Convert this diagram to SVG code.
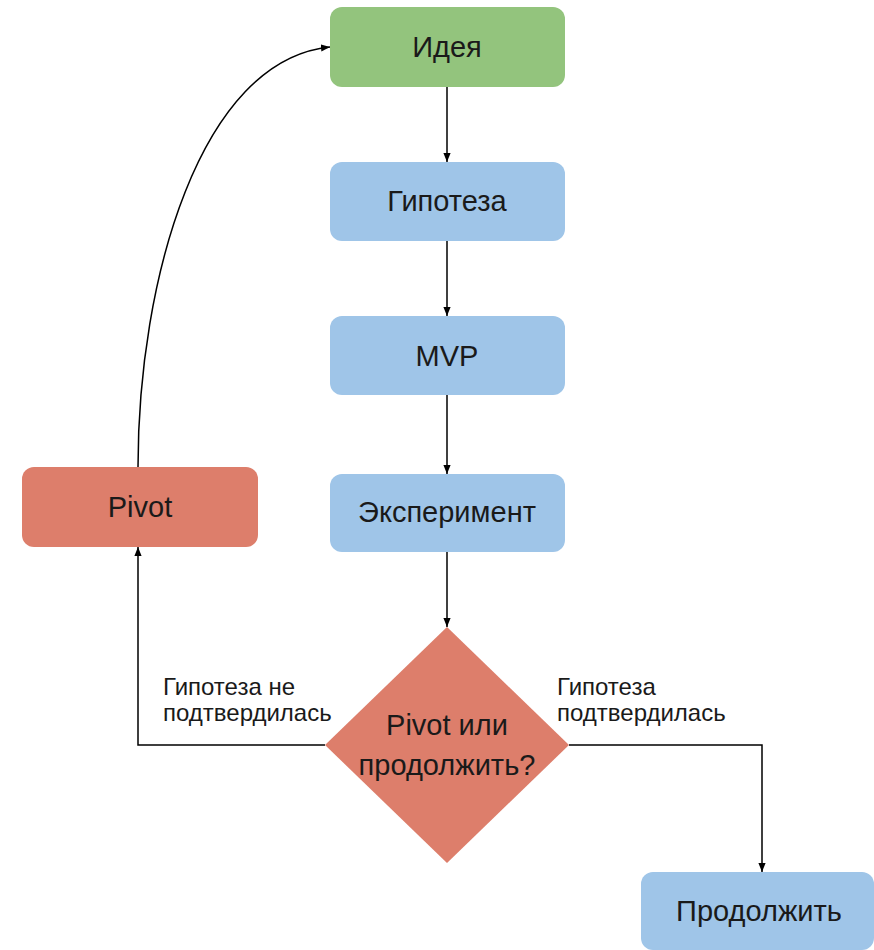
<svg xmlns="http://www.w3.org/2000/svg" width="874" height="950" viewBox="0 0 874 950">
<style>
.node text{font-family:"Liberation Sans",Arial,sans-serif;font-size:29px;fill:#1a1a1a;text-anchor:middle}
.lbl{font-family:"Liberation Sans",Arial,sans-serif;font-size:24px;fill:#1a1a1a}
.g{fill:#93c47d}.b{fill:#9fc5e8}.r{fill:#dd7e6b}
.conn path{fill:none;stroke:#000;stroke-width:1.5}
</style>
<defs>
<marker id="arr" viewBox="0 0 10 10" refX="10" refY="5" markerWidth="9" markerHeight="9" markerUnits="userSpaceOnUse" orient="auto">
<path d="M0,1 L10,5 L0,9 Z" fill="#000"/>
</marker>
</defs>
<g class="conn">
<path d="M447,87 V162" marker-end="url(#arr)"/>
<path d="M447,241 V316" marker-end="url(#arr)"/>
<path d="M447,395 V474" marker-end="url(#arr)"/>
<path d="M447,552 V627" marker-end="url(#arr)"/>
<path d="M325,745 H138 V547" marker-end="url(#arr)"/>
<path d="M569,745 H762 V872" marker-end="url(#arr)"/>
<path d="M138,467 C138,280 200,60 330,47" marker-end="url(#arr)"/>
</g>
<g id="idea" class="node"><rect class="g" x="330" y="7" width="235" height="80" rx="12"/><text x="447" y="57">Идея</text></g>
<g id="hyp" class="node"><rect class="b" x="330" y="162" width="235" height="79" rx="12"/><text x="447" y="211">Гипотеза</text></g>
<g id="mvp" class="node"><rect class="b" x="330" y="316" width="235" height="79" rx="12"/><text x="447" y="366">MVP</text></g>
<g id="exp" class="node"><rect class="b" x="330" y="474" width="235" height="78" rx="12"/><text x="447" y="522">Эксперимент</text></g>
<g id="pivot" class="node"><rect class="r" x="22" y="467" width="236" height="80" rx="12"/><text x="140" y="517">Pivot</text></g>
<g id="decision" class="node"><polygon class="r" points="447,627 569,745 447,863 325,745"/><text x="447" y="735">Pivot или</text><text x="447" y="775">продолжить?</text></g>
<g id="cont" class="node"><rect class="b" x="641" y="872" width="233" height="78" rx="12"/><text x="759" y="921">Продолжить</text></g>
<g id="labels">
<text class="lbl" x="163" y="695">Гипотеза не</text>
<text class="lbl" x="163" y="721">подтвердилась</text>
<text class="lbl" x="557" y="695">Гипотеза</text>
<text class="lbl" x="557" y="721">подтвердилась</text>
</g>
</svg>
